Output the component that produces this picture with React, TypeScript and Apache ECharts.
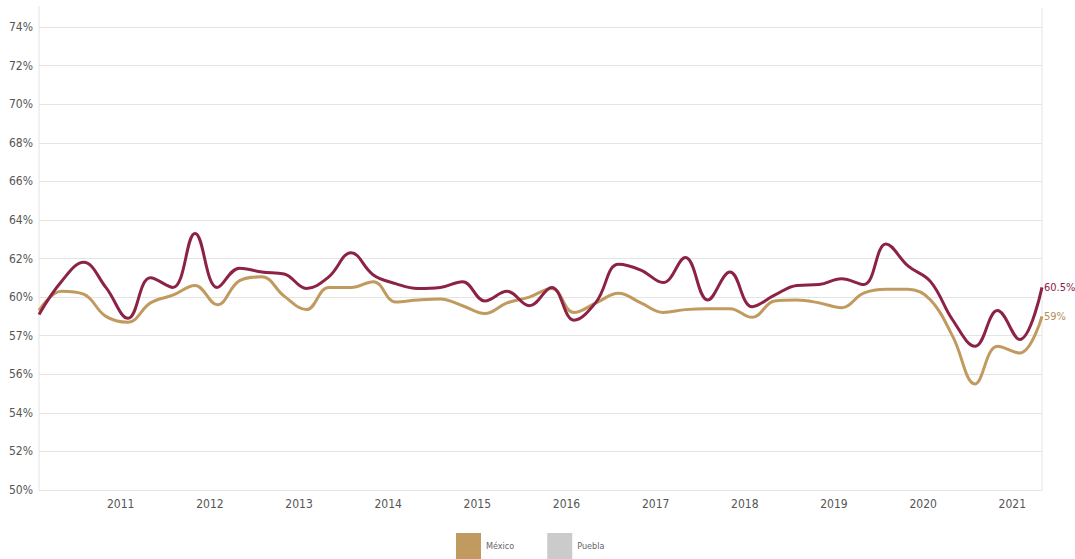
import React, { useEffect, useRef } from "react";
import * as echarts from "echarts";

const periods = [
  "2010-02", "2010-05", "2010-08", "2010-11",
  "2011-02", "2011-05", "2011-08", "2011-11",
  "2012-02", "2012-05", "2012-08", "2012-11",
  "2013-02", "2013-05", "2013-08", "2013-11",
  "2014-02", "2014-05", "2014-08", "2014-11",
  "2015-02", "2015-05", "2015-08", "2015-11",
  "2016-02", "2016-05", "2016-08", "2016-11",
  "2017-02", "2017-05", "2017-08", "2017-11",
  "2018-02", "2018-05", "2018-08", "2018-11",
  "2019-02", "2019-05", "2019-08", "2019-11",
  "2020-02", "2020-05", "2020-08", "2020-11",
  "2021-02", "2021-05",
];

const puebla = [
  59.1, 60.8, 61.8, 60.5, 58.9, 61.0, 60.5, 63.3, 60.5, 61.5, 61.3, 61.2,
  60.45, 61.05, 62.3, 61.15, 60.7, 60.45, 60.5, 60.8, 59.8, 60.3, 59.55, 60.5,
  58.8, 59.75, 61.7, 61.4, 60.75, 62.05, 59.85, 61.3, 59.5, 60.1, 60.6, 60.65,
  60.95, 60.65, 62.75, 61.6, 60.8, 58.8, 57.45, 59.3, 57.8, 60.5,
];

const mexico = [
  59.3, 60.3, 60.15, 59.0, 58.7, 59.7, 60.1, 60.6, 59.6, 60.85, 61.05, 60.05,
  59.35, 60.5, 60.5, 60.8, 59.75, 59.85, 59.9, 59.55, 59.15, 59.7, 60.0, 60.45,
  59.2, 59.7, 60.2, 59.7, 59.2, 59.35, 59.4, 59.4, 58.95, 59.8, 59.85, 59.7,
  59.45, 60.2, 60.4, 60.4, 59.85, 57.95, 55.5, 57.45, 57.1, 59.0,
];

const yearLabels = [2011, 2012, 2013, 2014, 2015, 2016, 2017, 2018, 2019, 2020, 2021];
const yTickLabels = ["50%", "52%", "54%", "56%", "57%", "60%", "62%", "64%", "66%", "68%", "70%", "72%", "74%"];
const endLabels = { mexico: "59%", puebla: "60.5%" };

const toX = (p: string) => {
  const [y, m] = p.split("-").map(Number);
  return y + (m - 1) / 12;
};

const FONT = "'Liberation Sans Narrow', 'DejaVu Sans Condensed', Roboto, sans-serif";

export default function App() {
  const ref = useRef<HTMLDivElement>(null);
  useEffect(() => {
    if (!ref.current) return;
    const chart = echarts.init(ref.current, null, { renderer: "svg" });
    const xs = periods.map(toX);
    const gLeft = 39;
    const gRight = 33;
    const gTop = 27;
    const gBottom = 69;
    chart.setOption({
      animation: false,
      backgroundColor: "#ffffff",
      grid: { left: gLeft, right: gRight, top: gTop, bottom: gBottom, containLabel: false },
      legend: {
        left: 456,
        top: 533,
        padding: 0,
        itemWidth: 25,
        itemHeight: 26,
        itemGap: 33,
        icon: "rect",
        textStyle: { fontSize: 9, color: "#666", fontFamily: FONT },
        data: [
          { name: "México", itemStyle: { color: "#c09a5e" } },
          { name: "Puebla", itemStyle: { color: "#cbcbcb" } },
        ],
      },
      xAxis: {
        type: "value",
        min: xs[0],
        max: xs[xs.length - 1],
        axisLine: { show: true, lineStyle: { color: "#e4e4e4" } },
        axisTick: { show: false },
        splitLine: { show: false },
        axisLabel: {
          customValues: yearLabels,
          formatter: (v: number) => String(Math.round(v)),
          color: "#555",
          fontSize: 12,
          fontFamily: FONT,
          margin: 8,
        },
      },
      yAxis: {
        type: "value",
        min: 50,
        max: 74,
        interval: 2,
        axisLine: { show: false },
        axisTick: { show: false },
        splitLine: { lineStyle: { color: "#e4e4e4", width: 1 } },
        axisLabel: {
          formatter: (v: number) => yTickLabels[Math.round((v - 50) / 2)] ?? "",
          color: "#555",
          fontSize: 12,
          fontFamily: FONT,
          margin: 6,
        },
      },
      graphic: [
        { type: "line", shape: { x1: gLeft, y1: 6, x2: gLeft, y2: 559 - gBottom }, style: { stroke: "#e4e4e4", lineWidth: 1 }, silent: true },
        { type: "line", shape: { x1: 1075 - gRight, y1: 8, x2: 1075 - gRight, y2: 559 - gBottom }, style: { stroke: "#e4e4e4", lineWidth: 1 }, silent: true },
      ],
      series: [
        {
          name: "México",
          type: "line",
          smooth: 0.4,
          showSymbol: false,
          symbol: "none",
          data: xs.map((x, i) => [x, mexico[i]]),
          lineStyle: { color: "#c09a5e", width: 3 },
          itemStyle: { color: "#c09a5e" },
          endLabel: {
            show: true,
            formatter: () => endLabels.mexico,
            color: "#b38f55",
            fontSize: 11,
            fontFamily: FONT,
            distance: 2,
          },
          z: 2,
        },
        {
          name: "Puebla",
          type: "line",
          smooth: 0.4,
          showSymbol: false,
          symbol: "none",
          data: xs.map((x, i) => [x, puebla[i]]),
          lineStyle: { color: "#8c2245", width: 3 },
          itemStyle: { color: "#8c2245" },
          endLabel: {
            show: true,
            formatter: () => endLabels.puebla,
            color: "#8c2245",
            fontSize: 11,
            fontFamily: FONT,
            distance: 2,
          },
          z: 3,
        },
      ],
    });
    return () => chart.dispose();
  }, []);
  return (
    <div
      ref={ref}
      style={{ position: "fixed", left: 0, top: 0, width: 1075, height: 559 }}
    />
  );
}
